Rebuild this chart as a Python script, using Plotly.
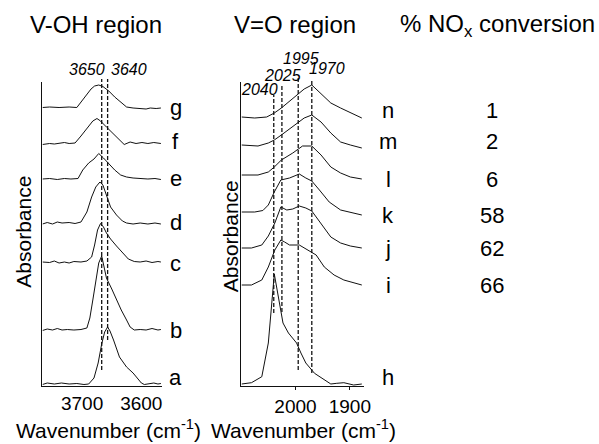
import plotly.graph_objects as go

# ---------------- data ----------------
# V-OH region: wavenumber (cm-1) and absorbance (a.u., stacked offsets included)
oh_a_wn = [3750, 3742, 3730, 3718, 3705, 3692, 3680, 3672, 3663, 3656, 3650, 3645, 3640, 3636, 3630, 3620, 3608, 3597, 3590, 3583, 3578, 3570, 3562, 3555, 3550]
oh_a_A = [1.5, 3, 2, 3, 2, 2.5, 1.5, 2, 8, 23, 42, 54, 59, 55, 46, 29, 19, 13, 8, 3, 1.5, 2, 3, 2, 2.5]

oh_b_wn = [3750, 3742, 3733, 3725, 3717, 3708, 3697, 3685, 3675, 3670, 3665, 3660, 3655, 3650, 3645, 3642, 3633, 3625, 3617, 3608, 3602, 3595, 3585, 3575, 3565, 3555, 3550]
oh_b_A = [55.5, 57, 56, 57.5, 56, 56.5, 56, 56.5, 58, 68, 86, 106, 123, 130, 118, 108, 97, 86, 76, 66, 59, 56, 56.5, 56, 57.5, 56, 56.5]

oh_c_wn = [3750, 3738, 3730, 3722, 3713, 3705, 3697, 3685, 3675, 3667, 3662, 3657, 3652, 3647, 3642, 3635, 3625, 3615, 3605, 3595, 3585, 3575, 3565, 3555, 3550]
oh_c_A = [124, 123.5, 125, 123, 124, 123, 124.5, 124, 125, 129, 141, 156, 162.5, 159, 153, 147, 140, 133, 127, 124.5, 124, 125, 123.5, 124.5, 124]

oh_d_wn = [3750, 3742, 3733, 3725, 3717, 3705, 3695, 3685, 3675, 3667, 3660, 3653, 3648, 3642, 3635, 3625, 3615, 3608, 3597, 3585, 3572, 3560, 3550]
oh_d_A = [162, 163.5, 162, 164, 163, 163.5, 162.5, 164, 174, 189, 199, 204, 201, 191, 179, 171, 165, 163, 162, 163, 162, 163, 162]

oh_e_wn = [3750, 3738, 3725, 3713, 3702, 3690, 3682, 3672, 3663, 3655, 3647, 3638, 3628, 3618, 3608, 3597, 3585, 3572, 3560, 3550]
oh_e_A = [207, 207.5, 206.5, 207.5, 207, 207.5, 216, 223, 227, 232.5, 228, 222, 216, 211, 209, 208, 207.5, 207, 207.5, 206.5]

oh_f_wn = [3750, 3738, 3730, 3722, 3713, 3705, 3695, 3685, 3675, 3665, 3658, 3652, 3642, 3632, 3622, 3612, 3602, 3592, 3582, 3572, 3562, 3550]
oh_f_A = [241.5, 242.5, 242, 243, 243.5, 242.5, 243, 250, 258, 265, 267.5, 265, 259, 253, 247, 241.5, 244, 242.5, 243.5, 242.5, 243.5, 242.5]

oh_g_wn = [3750, 3738, 3722, 3705, 3692, 3680, 3668, 3662, 3655, 3648, 3638, 3628, 3618, 3608, 3597, 3585, 3575, 3568, 3558, 3550]
oh_g_A = [278.5, 279, 278.5, 279, 278.5, 288, 297, 300, 301, 299.5, 295, 289, 284, 279, 278, 277.5, 277, 278, 277.5, 278]

# V=O region
vo_h_wn = [2099, 2081, 2062, 2050, 2039, 2032, 2023, 2013, 2005, 1998, 1990, 1981, 1965, 1947, 1935, 1924, 1911, 1893, 1878]
vo_h_A = [2, 3.3, 9.3, 43, 112, 89, 63, 53, 47, 43, 33, 23, 12.7, 6, 2, 2.7, 3.3, 1, 2]

vo_i_wn = [2099, 2081, 2062, 2050, 2038, 2027, 2020, 2011, 1993, 1978, 1962, 1947, 1929, 1911, 1893, 1878]
vo_i_A = [101, 101, 106, 119, 136, 146, 144, 141, 141, 136, 131, 119, 111, 106, 103, 101]

vo_j_wn = [2099, 2081, 2062, 2050, 2038, 2027, 2016, 2005, 1993, 1981, 1970, 1956, 1935, 1917, 1899, 1878]
vo_j_A = [138, 138, 141, 150, 163, 179, 176, 177, 180, 178, 175, 165, 149, 143, 140, 138]

vo_k_wn = [2099, 2075, 2060, 2050, 2039, 2027, 2011, 1993, 1981, 1970, 1956, 1938, 1917, 1899, 1878]
vo_k_A = [174, 174, 175.5, 181, 194, 206, 208, 212, 208, 205, 196, 184, 176, 174, 171]

vo_l_wn = [2099, 2069, 2050, 2039, 2026, 2005, 1987, 1970, 1953, 1935, 1917, 1899, 1878]
vo_l_A = [211, 211, 214, 219, 226, 233, 240, 240, 231, 219, 213, 209, 207]

vo_m_wn = [2099, 2069, 2050, 2039, 2026, 2002, 1984, 1970, 1953, 1935, 1917, 1899, 1878]
vo_m_A = [241, 240, 243, 246, 251, 261, 268, 271, 264, 253, 244, 241, 238]

vo_n_wn = [2099, 2075, 2053, 2039, 2026, 2002, 1984, 1970, 1956, 1935, 1917, 1899, 1878]
vo_n_A = [269, 268, 269, 273, 278, 289, 297, 301, 294, 283, 278, 273, 268]

oh_tick_vals = [3700, 3600]
vo_tick_vals = [2000, 1900]
oh_peak_lines = [3650, 3640]
vo_peak_lines = [2040, 2025, 1995, 1970]
oh_labels = ["a", "b", "c", "d", "e", "f", "g"]
vo_labels = ["h", "i", "j", "k", "l", "m", "n"]
nox_conversion = ["", "66", "62", "58", "6", "2", "1"]

# ---------------- layout helpers ----------------
W, H = 599, 444
FONT = "Liberation Sans, Arial, sans-serif"
INK = "#111111"
A_MAX = 304


def px(x):
    return x / W


def py(y):
    return 1 - y / H


ydom = [py(386), py(82)]


def a2paper(a):
    return ydom[0] + a / A_MAX * (ydom[1] - ydom[0])


fig = go.Figure()
oh_sets = [(oh_a_wn, oh_a_A), (oh_b_wn, oh_b_A), (oh_c_wn, oh_c_A), (oh_d_wn, oh_d_A),
           (oh_e_wn, oh_e_A), (oh_f_wn, oh_f_A), (oh_g_wn, oh_g_A)]
vo_sets = [(vo_h_wn, vo_h_A), (vo_i_wn, vo_i_A), (vo_j_wn, vo_j_A), (vo_k_wn, vo_k_A),
           (vo_l_wn, vo_l_A), (vo_m_wn, vo_m_A), (vo_n_wn, vo_n_A)]
for wn, A in oh_sets:
    fig.add_trace(go.Scatter(x=wn, y=A, mode="lines", line=dict(color=INK, width=1),
                             xaxis="x", yaxis="y", hoverinfo="skip", showlegend=False))
for wn, A in vo_sets:
    fig.add_trace(go.Scatter(x=wn, y=A, mode="lines", line=dict(color=INK, width=1),
                             xaxis="x2", yaxis="y2", hoverinfo="skip", showlegend=False))

axis_common = dict(showline=True, linecolor=INK, linewidth=1, showgrid=False, zeroline=False)
xcommon = dict(axis_common, tickcolor=INK,
               tickfont=dict(size=19, family=FONT, color="black"))
ycommon = dict(axis_common, showticklabels=False, ticks="")

fig.update_layout(
    width=W, height=H, margin=dict(l=0, r=0, t=0, b=0),
    paper_bgcolor="white", plot_bgcolor="white", showlegend=False,
    font=dict(family=FONT, color="black"),
    xaxis=dict(xcommon, domain=[px(43), px(164)], range=[3750, 3548], anchor="y",
               tickmode="array", tickvals=oh_tick_vals, ticks="", ticklabelshift=-10),
    yaxis=dict(ycommon, domain=ydom, range=[0, A_MAX], anchor="x"),
    xaxis2=dict(xcommon, domain=[px(244), px(368)], range=[2100, 1874.5], anchor="y2",
                tickmode="array", tickvals=vo_tick_vals, ticks="outside", ticklen=3),
    yaxis2=dict(ycommon, domain=ydom, range=[0, A_MAX], anchor="x2"),
)

# dashed marker lines
dash = dict(color=INK, width=1.3, dash="4px,2px")
oh_line_span = [(16, 307), (46, 307)]
vo_line_span = [(73, 291), (74, 301), (16, 309), (13, 306)]
shapes = []
for v, (lo, hi) in zip(oh_peak_lines, oh_line_span):
    shapes.append(dict(type="line", xref="x", yref="paper", x0=v, x1=v,
                       y0=a2paper(lo), y1=a2paper(hi), line=dash))
for v, (lo, hi) in zip(vo_peak_lines, vo_line_span):
    shapes.append(dict(type="line", xref="x2", yref="paper", x0=v, x1=v,
                       y0=a2paper(lo), y1=a2paper(hi), line=dash))
fig.update_layout(shapes=shapes)

ann = []
pk_font = dict(size=16, family=FONT, color="black")
# peak labels: (anchor, xshift, height)
oh_pk = [("right", 5, 316), ("left", 1, 316)]
for v, (xa, xs, h) in zip(oh_peak_lines, oh_pk):
    ann.append(dict(text=f"<i>{v}</i>", x=v, xref="x", y=a2paper(h), yref="paper",
                    xanchor=xa, yanchor="middle", xshift=xs, showarrow=False, font=pk_font))
vo_pk = [("right", 6, 296), ("center", 1, 311), ("center", 3, 328), ("left", -5, 318)]
for v, (xa, xs, h) in zip(vo_peak_lines, vo_pk):
    ann.append(dict(text=f"<i>{v}</i>", x=v, xref="x2", y=a2paper(h), yref="paper",
                    xanchor=xa, yanchor="middle", xshift=xs, showarrow=False, font=pk_font))

lab_font = dict(size=22, family=FONT, color="black")
oh_lab_h = [9, 56, 123, 164, 208, 244, 278]
vo_lab_h = [9, 101, 137, 171, 207, 244, 276]
for t, h in zip(oh_labels, oh_lab_h):
    ann.append(dict(text=t, x=px(178), xref="paper", y=a2paper(h), yref="paper",
                    xanchor="center", yanchor="middle", showarrow=False, font=lab_font))
for t, h in zip(vo_labels, vo_lab_h):
    ann.append(dict(text=t, x=px(393), xref="paper", y=a2paper(h), yref="paper",
                    xanchor="center", yanchor="middle", showarrow=False, font=lab_font))
for t, h in zip(nox_conversion, vo_lab_h):
    if t:
        ann.append(dict(text=t, x=px(498), xref="paper", y=a2paper(h), yref="paper",
                        xanchor="center", yanchor="middle", showarrow=False, font=lab_font))

title_font = dict(size=24, family=FONT, color="black")
ann.append(dict(text="V-OH region", x=px(97), y=py(24), xref="paper", yref="paper",
                xanchor="center", yanchor="middle", showarrow=False, font=title_font))
ann.append(dict(text="V=O region", x=px(298), y=py(24), xref="paper", yref="paper",
                xanchor="center", yanchor="middle", showarrow=False, font=title_font))
ann.append(dict(text="% NO<sub>x</sub> conversion", x=px(503), y=py(26), xref="paper", yref="paper",
                xanchor="center", yanchor="middle", showarrow=False, font=title_font))

axt_font = dict(size=21, family=FONT, color="black")
ann.append(dict(text="Absorbance", x=px(23), y=py(232), xref="paper", yref="paper",
                textangle=-90, xanchor="center", yanchor="middle", showarrow=False, font=axt_font))
ann.append(dict(text="Absorbance", x=px(233), y=py(236), xref="paper", yref="paper",
                textangle=-90, xanchor="center", yanchor="middle", showarrow=False, font=axt_font))
ann.append(dict(text="Wavenumber (cm<sup>-1</sup>)", x=px(110), y=py(429), xref="paper", yref="paper",
                xanchor="center", yanchor="middle", showarrow=False, font=axt_font))
ann.append(dict(text="Wavenumber (cm<sup>-1</sup>)", x=px(307), y=py(429), xref="paper", yref="paper",
                xanchor="center", yanchor="middle", showarrow=False, font=axt_font))
fig.update_layout(annotations=ann)

fig.write_html("out.html")
